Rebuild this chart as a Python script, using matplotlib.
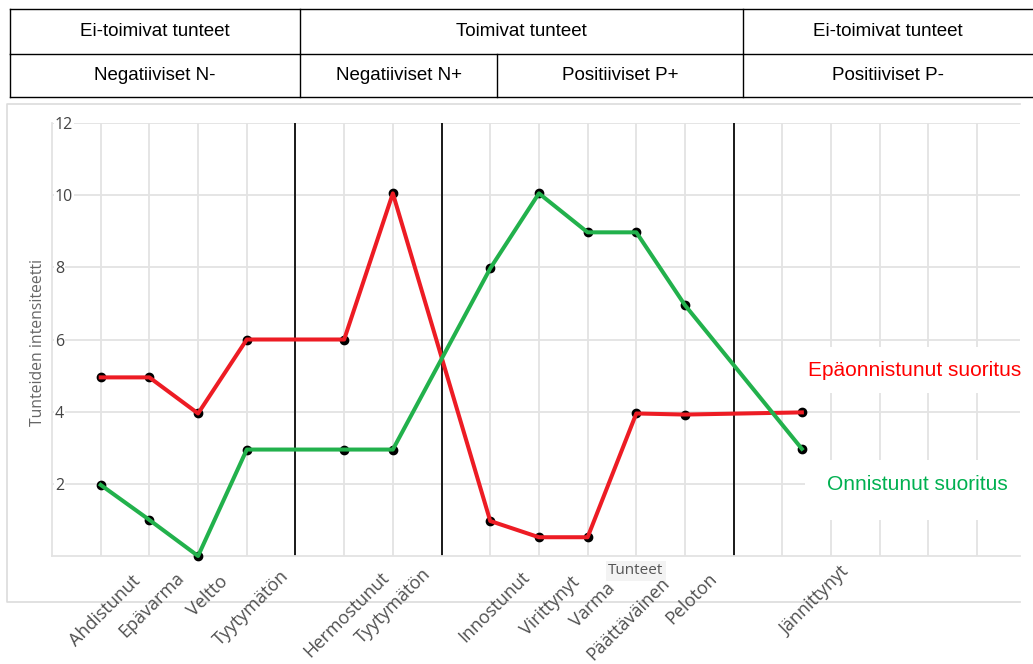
import matplotlib.pyplot as plt
from matplotlib.patches import Rectangle
from matplotlib.transforms import offset_copy

# data
emotions = ['Ahdistunut', 'Epävarma', 'Veltto', 'Tyytymätön', 'Hermostunut', 'Tyytymätön',
            'Innostunut', 'Virittynyt', 'Varma', 'Päättäväinen', 'Peloton', 'Jännittynyt']
emotion_pos = [0, 1, 2, 3, 5, 6, 8, 9, 10, 11, 12, 14.4]
failed = [4.95, 4.95, 3.95, 6.0, 6.0, 10.05, 0.97, 0.52, 0.52, 3.95, 3.92, 3.98]
success = [1.97, 1.0, 0.0, 2.95, 2.95, 2.95, 7.97, 10.05, 8.97, 8.97, 6.95, 2.97]
group_bounds = [4, 7, 13]
y_ticks = [2, 4, 6, 8, 10, 12]

header_row1 = ['Ei-toimivat tunteet', 'Toimivat tunteet', 'Ei-toimivat tunteet']
header_row2 = ['Negatiiviset N-', 'Negatiiviset N+', 'Positiiviset P+', 'Positiiviset P-']
legend_failed = 'Epäonnistunut suoritus'
legend_success = 'Onnistunut suoritus'

# layout (pixels)
W, H = 1033, 664
row1_edges = [10, 300, 743, 1040]
row2_edges = [10, 300, 497, 743, 1040]
label_dx = [31, 26, 21, 33, 36, 29, 30, 32, 18, 24, 23, 38]
label_y = [572, 569, 572, 567, 568, 565, 568, 573, 579, 574, 569, 563]

RED = '#ed1c24'
GREEN = '#22b14c'
GRID = '#e3e3e3'

plt.rcParams['font.family'] = ['Open Sans', 'DejaVu Sans']


def pixel_axes(fig):
    a = fig.add_axes([0, 0, 1, 1])
    a.set_xlim(0, W)
    a.set_ylim(H, 0)
    a.axis('off')
    a.patch.set_alpha(0)
    return a


def draw_header(ov):
    top, mid, bot = 9, 54, 97
    for y in (top, mid, bot):
        ov.plot([10, W], [y, y], color='black', lw=1.0)
    for x in row1_edges[:-1]:
        ov.plot([x, x], [top, mid], color='black', lw=1.0)
    for x in row2_edges[:-1]:
        ov.plot([x, x], [mid, bot], color='black', lw=1.0)
    for i, txt in enumerate(header_row1):
        xc = (row1_edges[i] + min(row1_edges[i + 1], 1033)) / 2
        ov.text(xc, (top + mid) / 2, txt, ha='center', va='center',
                fontsize=13.5, family='Liberation Sans', color='black')
    for i, txt in enumerate(header_row2):
        xc = (row2_edges[i] + min(row2_edges[i + 1], 1033)) / 2
        ov.text(xc, (mid + bot) / 2, txt, ha='center', va='center',
                fontsize=13.5, family='Liberation Sans', color='black')


def main():
    fig = plt.figure(figsize=(W / 100, H / 100), dpi=100)
    fig.patch.set_facecolor('white')

    bg = pixel_axes(fig)
    # panel frame (right edge is cut off in the original)
    bg.plot([1020, 7, 7, 1020], [104, 104, 602, 602], color='#dcdcdc', lw=1.2)

    ax = fig.add_axes([52 / W, 1 - 556 / H, (1020 - 52) / W, (556 - 123) / H])
    ax.set_facecolor('none')
    ax.set_xlim(-1, 18.88)
    ax.set_ylim(0, 12)
    ax.set_xticks(range(19))
    ax.set_xticklabels([])
    ax.set_yticks(y_ticks)
    ax.set_yticklabels([str(t) for t in y_ticks])
    ax.tick_params(length=0)
    ax.tick_params(axis='y', pad=-2, labelsize=11.5, labelcolor='#444444')
    for lab in ax.get_yticklabels():
        lab.set_horizontalalignment('left')
        lab.set_bbox(dict(fc='white', ec='none', pad=0.5))
    ax.grid(True, color=GRID, lw=1.3)
    ax.set_axisbelow(True)
    for s in ('top', 'right'):
        ax.spines[s].set_visible(False)
    for s in ('left', 'bottom'):
        ax.spines[s].set_color(GRID)
        ax.spines[s].set_linewidth(1.3)

    for b in group_bounds:
        ax.axvline(b, color='#1a1a1a', lw=1.4, zorder=2)

    ax.plot(emotion_pos, failed, 'o', color='black', ms=6, zorder=3, clip_on=False)
    ax.plot(emotion_pos, success, 'o', color='black', ms=6, zorder=3, clip_on=False)
    ax.plot(emotion_pos, failed, color=RED, lw=2.9, zorder=4, clip_on=False,
            solid_joinstyle='round')
    ax.plot(emotion_pos, success, color=GREEN, lw=2.9, zorder=5, clip_on=False,
            solid_joinstyle='round')

    for i, lab in enumerate(emotions):
        tr = offset_copy(ax.get_xaxis_transform(), fig=fig, x=label_dx[i],
                         y=-(label_y[i] - 556), units='dots')
        ax.text(emotion_pos[i], 0, lab, transform=tr, rotation=45, rotation_mode='anchor',
                ha='right', va='top', fontsize=13, color='#505050', clip_on=False)

    ov = pixel_axes(fig)
    draw_header(ov)

    ov.text(38, 342, 'Tunteiden intensiteetti', rotation=90, ha='center', va='center',
            fontsize=11.3, color='#666666')
    ov.text(636, 571, 'Tunteet', ha='center', va='center', fontsize=11, color='#555555',
            bbox=dict(fc='#f3f3f3', ec='none', pad=2))

    # legend boxes pasted over the grid
    ov.add_patch(Rectangle((800, 347), 240, 46, fc='white', ec='none'))
    ov.add_patch(Rectangle((805, 460), 240, 60, fc='white', ec='none'))
    ov.text(915, 370, legend_failed, ha='center', va='center', fontsize=15,
            family='Liberation Sans', color='#ff0000')
    ov.text(917, 485, legend_success, ha='center', va='center', fontsize=15,
            family='Liberation Sans', color='#00b050')

    fig.savefig('out.png', dpi=100, facecolor='white')


if __name__ == "__main__":
    main()
